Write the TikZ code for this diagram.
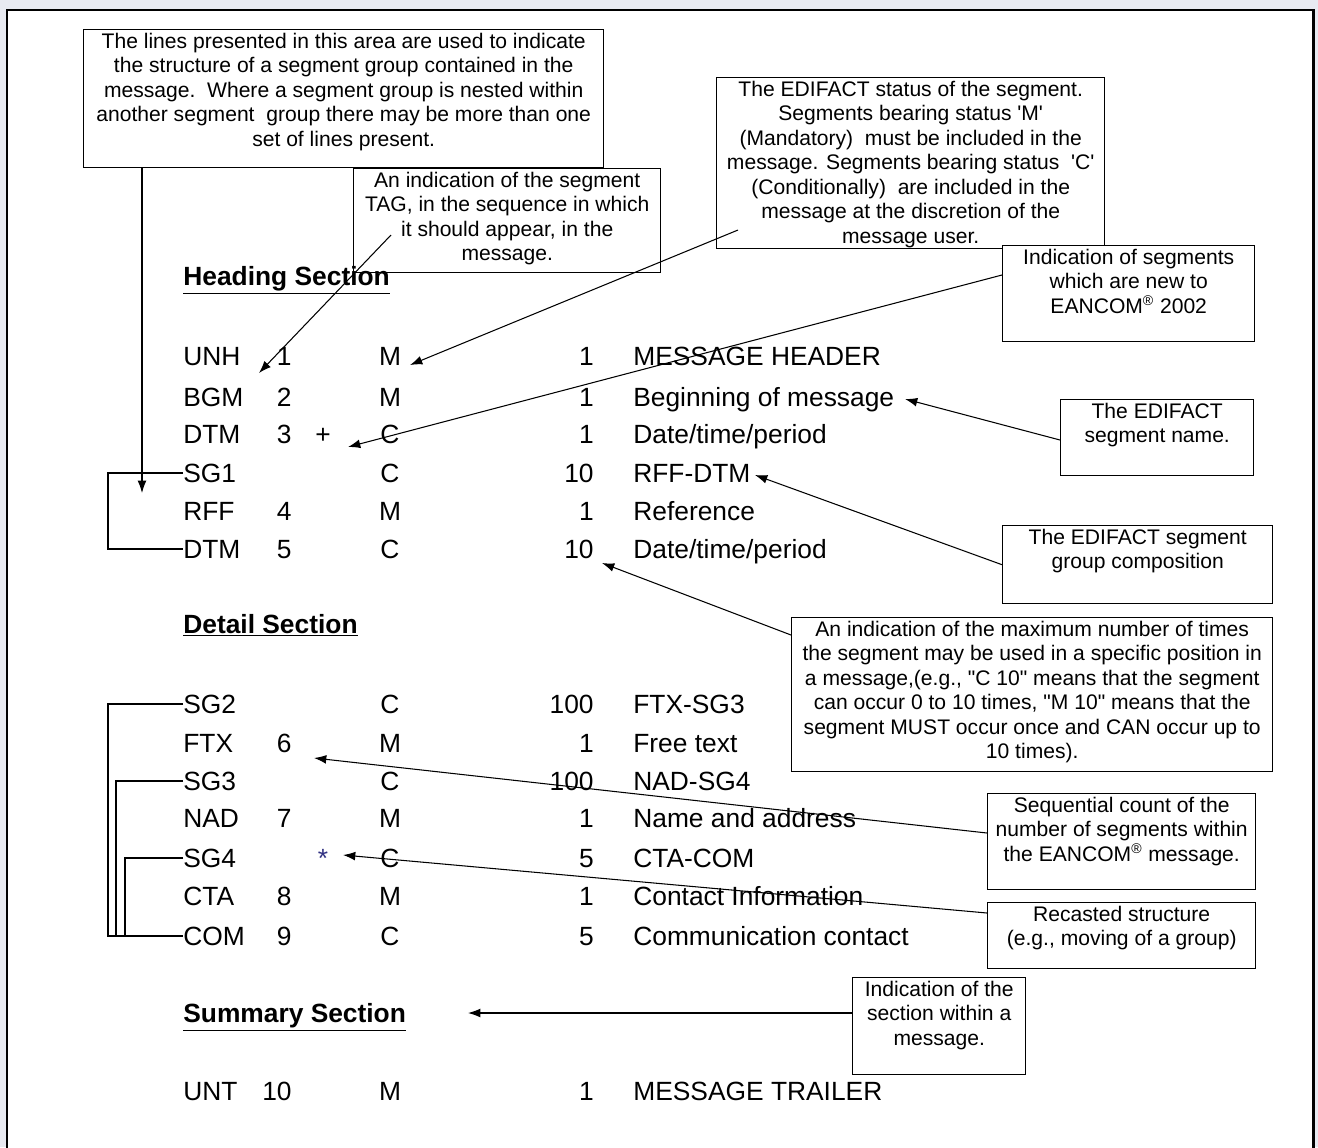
\documentclass[tikz,border=0pt]{standalone}
\usepackage{fontspec}
\setmainfont{Liberation Sans}[Ligatures=TeXOff]
\usetikzlibrary{arrows.meta,calc}
\definecolor{pageBack}{RGB}{232,234,241}
\definecolor{starColor}{RGB}{50,50,130}
\tikzstyle{pixelGrid} = [x=0.02cm, y=-0.02cm]
\tikzstyle{frameLine} = [line width=1.7pt]
\tikzstyle{noteStyle} = [draw, fill=white, line width=0.8pt, inner xsep=2pt, inner ysep=0pt, font=\fontsize{12}{13.9}\selectfont]
\tikzstyle{segText} = [inner sep=0pt, font=\fontsize{15}{18}\selectfont]
\tikzstyle{sectionText} = [inner sep=0pt, font=\fontsize{15}{18}\selectfont\bfseries]
\tikzstyle{groupLine} = [line width=0.8pt]
\tikzstyle{pointerArrow} = [line width=0.6pt, -{Latex[length=7pt,width=5pt]}]
\newcommand{\noteBox}[6]{
  \pgfmathsetlengthmacro{\noteWidth}{(#4-#2)*0.02cm-4pt}
  \pgfmathsetlengthmacro{\noteHeight}{(#5-#3)*0.02cm}
  \node [noteStyle, anchor=north west] (#1) at (#2,#3)
    {\parbox[t][\noteHeight][t]{\noteWidth}{\centering\vspace*{2pt}#6}};
}
\newcommand{\segmentRow}[7]{
  \node [segText, anchor=base west] (#1Tag) at (183,#2) {#3};
  \node [segText, anchor=base east] (#1Pos) at (292,#2) {#4};
  \node [segText, anchor=base] (#1Status) at (390,#2) {#5};
  \node [segText, anchor=base east] (#1Rep) at (594,#2) {#6};
  \node [segText, anchor=base west] (#1Name) at (633,#2) {#7};
}

\begin{document}
\begin{tikzpicture}[pixelGrid]
  \useasboundingbox (0,0) rectangle (1318,1147);
  \fill [pageBack] (0,0) rectangle (1318,1147);
  \fill [white] (7,10) rectangle (1313,1147);
  \draw [frameLine] (7,1150) -- (7,10) -- (1313,10) -- (1313,1150);

  % notes
  \noteBox{linesBox}{83}{29}{603}{167}{The lines presented in this area are used to indicate\\the structure of a segment group contained in the\\message.\ \ Where a segment group is nested within\\another segment\ \ group there may be more than one\\set of lines present.}
  \noteBox{tagBox}{353}{168}{660}{272}{An indication of the segment\\TAG, in the sequence in which\\it should appear, in the\\message.}
  \noteBox{statusBox}{716}{77}{1104}{248}{The EDIFACT status of the segment.\\Segments bearing status 'M'\\(Mandatory)\ \ must be included in the\\message. Segments bearing status\ \ 'C'\\(Conditionally)\ \ are included in the\\message at the discretion of the\\message user.}
  \noteBox{newBox}{1002}{245}{1254}{341}{Indication of segments\\which are new to\\EANCOM\textsuperscript{\textregistered} 2002}
  \noteBox{nameBox}{1060}{399}{1253}{475}{The EDIFACT\\segment name.}
  \noteBox{groupBox}{1002}{525}{1272}{603}{The EDIFACT segment\\group composition}
  \noteBox{maxBox}{791}{617}{1272}{771}{An indication of the maximum number of times\\the segment may be used in a specific position in\\a message,(e.g., "C 10" means that the segment\\can occur 0 to 10 times, "M 10" means that the\\segment MUST occur once and CAN occur up to\\10 times).}
  \noteBox{seqBox}{987}{793}{1255}{889}{Sequential count of the\\number of segments within\\the EANCOM\textsuperscript{\textregistered} message.}
  \noteBox{recastBox}{987}{902}{1255}{968}{Recasted structure\\(e.g., moving of a group)}
  \noteBox{sectionBox}{852}{977}{1025}{1074}{Indication of the\\section within a\\message.}

  % sections
  \node [sectionText, anchor=base west] (headingSection) at (183,285) {\underline{Heading Section}};
  \node [sectionText, anchor=base west] (detailSection) at (183,633) {\underline{Detail Section}};
  \node [sectionText, anchor=base west] (summarySection) at (183,1022) {\underline{Summary Section}};

  % segments
  \segmentRow{unh}{365}{UNH}{1}{M}{1}{MESSAGE HEADER}
  \segmentRow{bgm}{406}{BGM}{2}{M}{1}{Beginning of message}
  \segmentRow{dtmA}{443}{DTM}{3}{C}{1}{Date/time/period}
  \segmentRow{sgA}{482}{SG1}{}{C}{10}{RFF-DTM}
  \segmentRow{rff}{520}{RFF}{4}{M}{1}{Reference}
  \segmentRow{dtmB}{558}{DTM}{5}{C}{10}{Date/time/period}
  \segmentRow{sgB}{713}{SG2}{}{C}{100}{FTX-SG3}
  \segmentRow{ftx}{752}{FTX}{6}{M}{1}{Free text}
  \segmentRow{sgC}{790}{SG3}{}{C}{100}{NAD-SG4}
  \segmentRow{nad}{827}{NAD}{7}{M}{1}{Name and address}
  \segmentRow{sgD}{867}{SG4}{}{C}{5}{CTA-COM}
  \segmentRow{cta}{905}{CTA}{8}{M}{1}{Contact Information}
  \segmentRow{com}{945}{COM}{9}{C}{5}{Communication contact}
  \segmentRow{unt}{1100}{UNT}{10}{M}{1}{MESSAGE TRAILER}
  \node [segText, anchor=base] (dtmAMark) at (323,443) {+};
  \node [segText, anchor=base, text=starColor] (sgDMark) at (323,867) {*};

  % group lines
  \draw [groupLine] (sgATag.west) -- ++(-75,0) |- (dtmBTag.west);
  \draw [groupLine] (sgBTag.west) -- ++(-75,0) |- (comTag.west);
  \draw [groupLine] (sgCTag.west) -- ++(-67,0) |- (comTag.west);
  \draw [groupLine] (sgDTag.west) -- ++(-58,0) |- (comTag.west);

  % pointers
  \coordinate (linesTip) at (142,493);
  \coordinate (tagFrom) at (391,235);
  \coordinate (tagTip) at (259,373);
  \coordinate (statusFrom) at (738,230);
  \coordinate (statusTip) at (410,365);
  \coordinate (newTip) at (348,447);
  \coordinate (nameTip) at (905,399);
  \coordinate (compTip) at (755,475);
  \coordinate (repeatTip) at (602,563);
  \coordinate (countTip) at (314,758);
  \coordinate (recastTip) at (343,855);
  \coordinate (sectionTip) at (468,1013);
  \draw [pointerArrow] (linesBox.south -| linesTip) -- (linesTip);
  \draw [pointerArrow] (tagFrom) -- (tagTip);
  \draw [pointerArrow] (statusFrom) -- (statusTip);
  \draw [pointerArrow] ($(newBox.north west)+(0,30)$) -- (newTip);
  \draw [pointerArrow] ($(nameBox.north west)+(0,41)$) -- (nameTip);
  \draw [pointerArrow] (groupBox.west) -- (compTip);
  \draw [pointerArrow] ($(maxBox.north west)+(0,18)$) -- (repeatTip);
  \draw [pointerArrow] ($(seqBox.north west)+(0,40)$) -- (countTip);
  \draw [pointerArrow] ($(recastBox.north west)+(0,11)$) -- (recastTip);
  \draw [pointerArrow] ($(sectionBox.north west)+(0,36)$) -- (sectionTip);
\end{tikzpicture}
\end{document}
